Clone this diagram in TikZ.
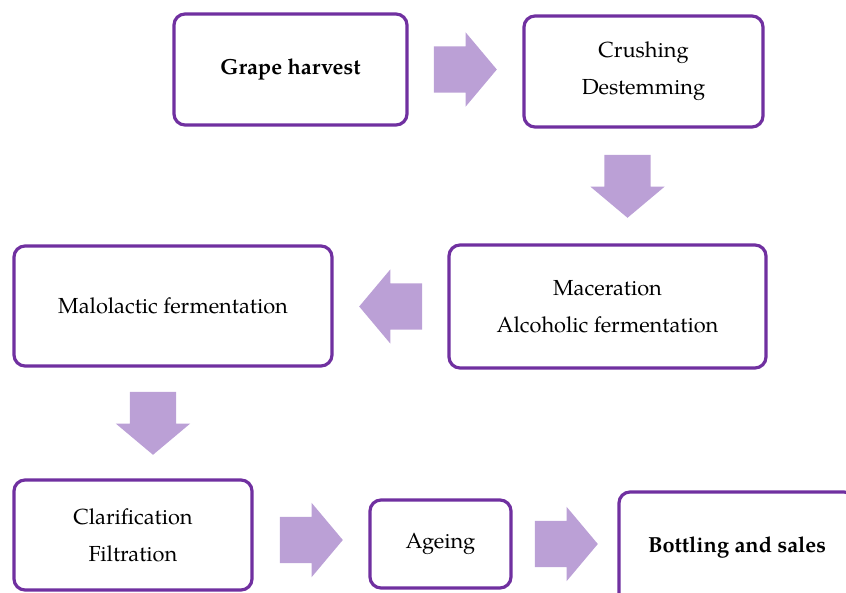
\documentclass[tikz,border=0pt]{standalone}
\usepackage{fontspec}
\setmainfont{texgyrepagella}[
	Extension=.otf,
	UprightFont=*-regular,
	BoldFont=*-bold,
	ItalicFont=*-italic,
	BoldItalicFont=*-bolditalic
]
\usetikzlibrary{shapes.arrows,calc}

\definecolor{stepline}{RGB}{112,48,160}
\definecolor{stepfill}{RGB}{187,160,214}

\begin{document}
\begin{tikzpicture}
	[
		x=1pt,
		y=-1pt,
		font=\fontsize{21.8}{37}\selectfont
	]
	
	\tikzstyle{Stage} = [
		rectangle, 
		rounded corners=11pt, 
		line width=3.2pt, 
		align=center, 
		draw=stepline, 
		fill=white
	]
	
	\tikzstyle{Flow} = [
		single arrow, 
		anchor=tail, 
		fill=stepfill, 
		draw=none, 
		inner xsep=0pt, 
		inner ysep=23pt, 
		minimum height=63pt, 
		single arrow head extend=14pt, 
		single arrow tip angle=100
	]
	
	\useasboundingbox (0,0) rectangle (846,593);
	
	\node [Stage, minimum width=233pt, minimum height=111pt] (harvest) at (290.5,69.5) {\textbf{Grape harvest}};
	\node [Stage, minimum width=239pt, minimum height=111pt] (crush) at (643.5,71.5) {Crushing\\Destemming};
	\node [Stage, minimum width=317pt, minimum height=123pt] (macer) at (607.5,306.5) {Maceration\\Alcoholic fermentation};
	\node [Stage, minimum width=318pt, minimum height=120pt] (malo) at (173,306) {Malolactic fermentation};
	\node [Stage, minimum width=238pt, minimum height=110pt] (clarif) at (133,535) {Clarification\\Filtration};
	\node [Stage, minimum width=141pt, minimum height=88pt] (ageing) at (440.5,544) {Ageing};
	\node [Stage, minimum width=236pt, minimum height=112pt] (bottling) at (737,548) {\textbf{Bottling and sales}};
	
	% block arrows, tail a little off the box they leave
	\node [Flow] (f1) at ($(harvest.east)+(25,0)$) {};
	\node [Flow, rotate=-90] (f2) at ($(crush.south)+(-16,26)$) {};
	\node [Flow, rotate=180] (f3) at ($(macer.west)+(-25,0)$) {};
	\node [Flow, rotate=-90] (f4) at ($(malo.south)+(-20,24)$) {};
	\node [Flow] (f5) at ($(clarif.east)+(26,5)$) {};
	\node [Flow] (f6) at ($(ageing.east)+(22,0)$) {};
\end{tikzpicture}
\end{document}
